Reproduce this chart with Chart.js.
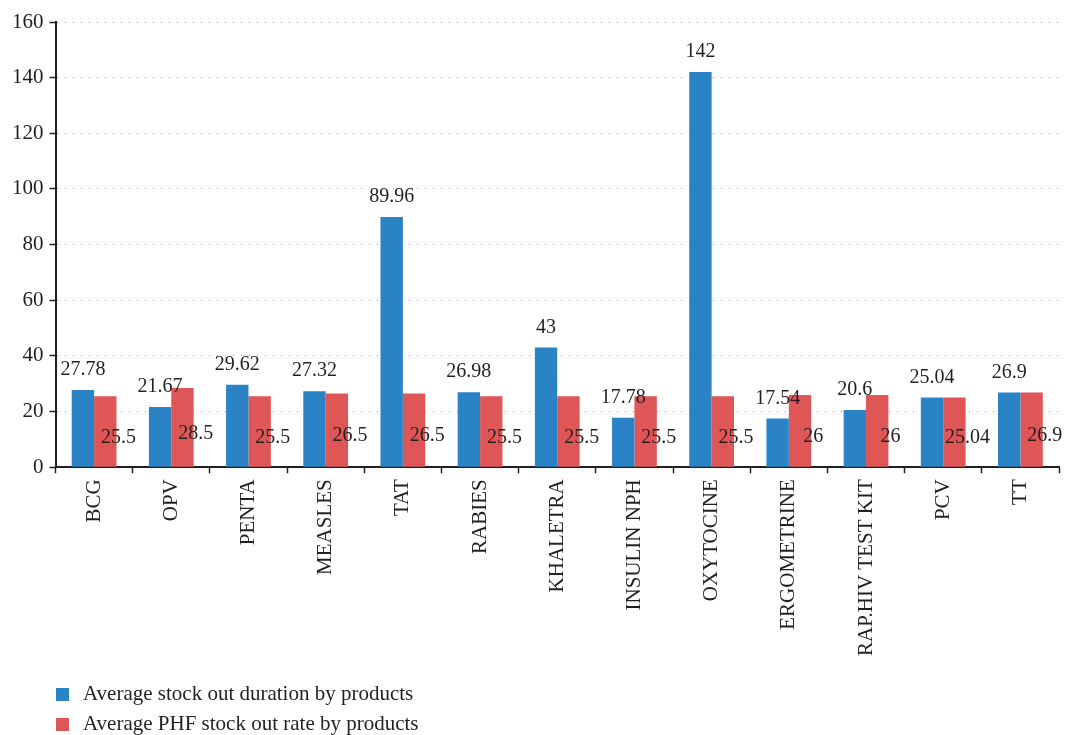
<!DOCTYPE html>
<html>
<head>
<meta charset="utf-8">
<script src="https://cdn.jsdelivr.net/npm/chart.js@4.4.0/dist/chart.umd.min.js"></script>
<style>
    body { margin: 0; background: #fff; }
    #wrap { width: 1073px; height: 735px; position: relative; }
</style>
</head>
<body>
<div id="wrap"><canvas id="stockChart"></canvas></div>
<script>
const products = ['BCG', 'OPV', 'PENTA', 'MEASLES', 'TAT', 'RABIES', 'KHALETRA',
    'INSULIN NPH', 'OXYTOCINE', 'ERGOMETRINE', 'RAP.HIV TEST KIT', 'PCV', 'TT'];
const durationValues = [27.78, 21.67, 29.62, 27.32, 89.96, 26.98, 43, 17.78, 142, 17.54, 20.6, 25.04, 26.9];
const rateValues = [25.5, 28.5, 25.5, 26.5, 26.5, 25.5, 25.5, 25.5, 25.5, 26, 26, 25.04, 26.9];
const seriesNames = ['Average stock out duration by products', 'Average PHF stock out rate by products'];

const FONT = 'Liberation Serif';
const TEXT_COLOR = '#231f20';

// value labels: blue above the bar, red off the right edge of the bar
const valueLabels = {
    id: 'valueLabels',
    afterDatasetsDraw(chart) {
        const ctx = chart.ctx;
        ctx.save();
        ctx.font = `20px "${FONT}"`;
        ctx.fillStyle = TEXT_COLOR;
        ctx.textBaseline = 'middle';
        ctx.textAlign = 'center';
        chart.data.datasets.forEach((ds, i) => {
            const meta = chart.getDatasetMeta(i);
            meta.data.forEach((bar, j) => {
                const txt = String(ds.data[j]);
                if (i === 0) {
                    ctx.fillText(txt, bar.x, bar.y - 20);
                } else {
                    ctx.fillText(txt, bar.x + bar.width / 2 + 2, (bar.y + bar.base) / 2 + 6);
                }
            });
        });
        ctx.restore();
    }
};

// stacked legend in the bottom-left corner
const stackedLegend = {
    id: 'stackedLegend',
    afterDraw(chart) {
        const ctx = chart.ctx;
        ctx.save();
        ctx.font = `21px "${FONT}"`;
        ctx.textBaseline = 'middle';
        ctx.textAlign = 'left';
        chart.data.datasets.forEach((ds, i) => {
            const y = 694 + i * 30;
            ctx.fillStyle = ds.backgroundColor;
            ctx.fillRect(56, y - 6, 13, 13);
            ctx.fillStyle = TEXT_COLOR;
            ctx.fillText(ds.label, 83, y);
        });
        ctx.restore();
    }
};

new Chart(document.getElementById('stockChart'), {
    type: 'bar',
    data: {
        labels: products,
        datasets: [
            { label: seriesNames[0], data: durationValues, backgroundColor: '#2a83c4' },
            { label: seriesNames[1], data: rateValues, backgroundColor: '#de5656' }
        ]
    },
    options: {
        responsive: true,
        maintainAspectRatio: false,
        animation: false,
        layout: { padding: { top: 22, left: 6, right: 14, bottom: 73 } },
        datasets: { bar: { categoryPercentage: 0.58, barPercentage: 1.0 } },
        plugins: {
            legend: { display: false },
            tooltip: { enabled: false }
        },
        scales: {
            x: {
                grid: {
                    display: true,
                    drawOnChartArea: false,
                    tickLength: 6,
                    tickColor: '#231f20',
                    tickWidth: 1.5
                },
                border: { color: '#231f20', width: 2 },
                ticks: {
                    color: TEXT_COLOR,
                    font: { family: FONT, size: 21 },
                    minRotation: 90,
                    maxRotation: 90,
                    padding: 6,
                    autoSkip: false
                }
            },
            y: {
                min: 0,
                max: 160,
                grid: {
                    color: '#999999',
                    lineWidth: 1,
                    tickLength: 6,
                    tickColor: '#231f20',
                    tickWidth: 1.5,
                    tickBorderDash: []
                },
                border: { color: '#231f20', width: 2, dash: [1, 7] },
                ticks: {
                    stepSize: 20,
                    color: TEXT_COLOR,
                    font: { family: FONT, size: 21 },
                    padding: 6
                }
            }
        }
    },
    plugins: [valueLabels, stackedLegend]
});
</script>
</body>
</html>
